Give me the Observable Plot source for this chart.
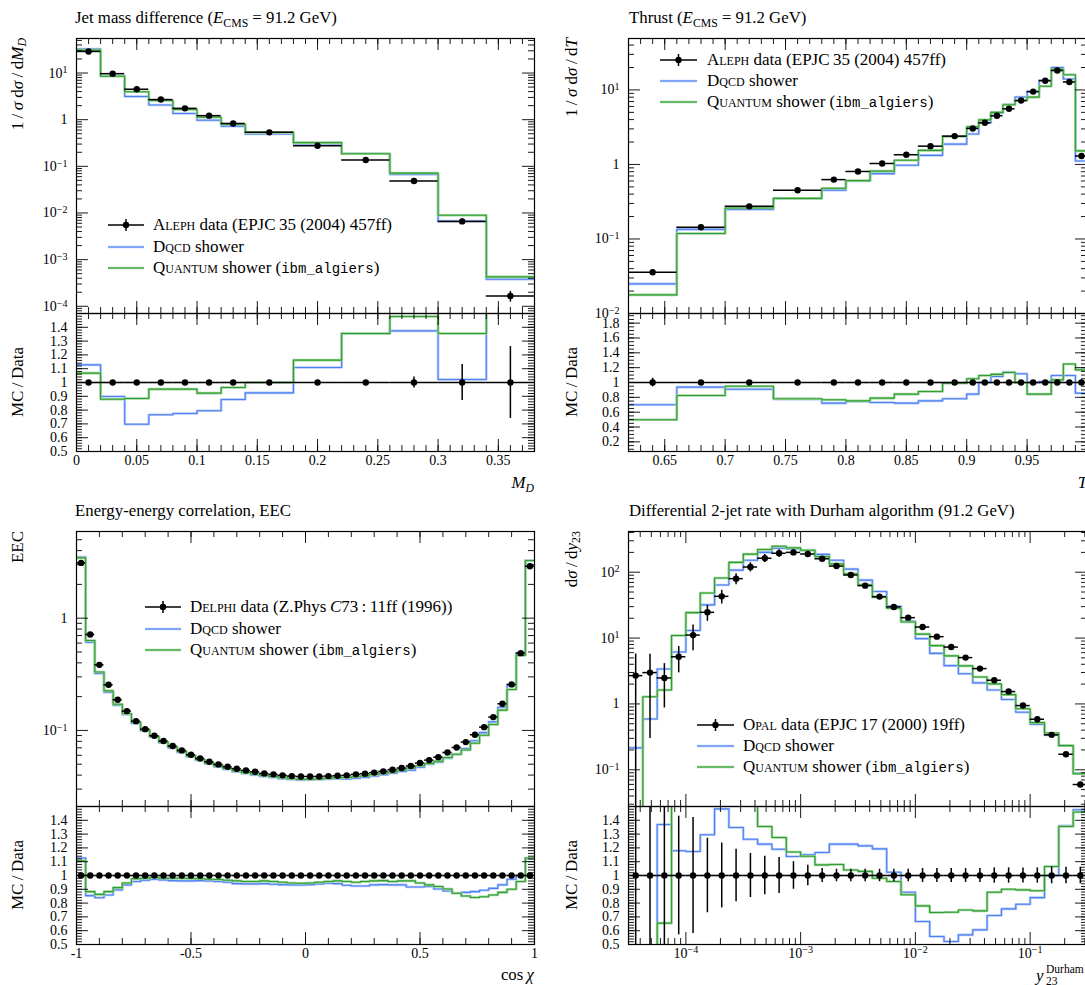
<!DOCTYPE html>
<html><head><meta charset="utf-8">
<script src="https://cdn.jsdelivr.net/npm/d3@7"></script>
<script src="https://cdn.jsdelivr.net/npm/@observablehq/plot@0.6"></script>
<style>
html,body{margin:0;padding:0;background:#fff;overflow:hidden;width:1085px;height:985px;}
#page{position:relative;width:1100px;height:985px;font-family:"Liberation Serif","DejaVu Serif",serif;color:#000;}
.t{position:absolute;white-space:nowrap;font-size:16.8px;line-height:20px;}
.yl{position:absolute;white-space:nowrap;font-size:17px;line-height:20px;width:20px;writing-mode:vertical-rl;transform:rotate(180deg);}
.sc{font-variant:small-caps;}
.tt{font-family:"Liberation Mono","DejaVu Sans Mono",monospace;font-size:14px;}
sub{font-size:0.7em;vertical-align:-0.3em;line-height:0;}
sup{font-size:0.7em;vertical-align:0.5em;line-height:0;}
.lg{position:absolute;white-space:nowrap;font-size:17px;height:20px;line-height:20px;}
.sm{position:absolute;white-space:nowrap;font-size:11.5px;line-height:14px;}
</style></head>
<body><div id="page"></div>
<script>
// ---------- Jet mass difference (ALEPH) ----------
const mdEdges = [0, 0.02, 0.04, 0.06, 0.08, 0.10, 0.12, 0.14, 0.18, 0.22, 0.26, 0.30, 0.34, 0.38];
const mdData = [29, 9.7, 4.5, 2.7, 1.75, 1.22, 0.83, 0.535, 0.277, 0.137, 0.0485, 0.0066, 1.66e-4];
const mdErr = [0.01, 0.01, 0.01, 0.01, 0.01, 0.01, 0.01, 0.01, 0.01, 0.015, 0.04, 0.13, 0.26];
const mdDqcdRatio = [1.128, 0.899, 0.698, 0.766, 0.775, 0.795, 0.877, 0.925, 1.109, 1.355, 1.374, 1.022, 2.29];
const mdQuantumRatio = [1.068, 0.879, 0.884, 0.952, 0.952, 0.923, 0.964, 1.0, 1.162, 1.355, 1.478, 1.355, 2.57];
const mdXTicks = [0, 0.05, 0.1, 0.15, 0.2, 0.25, 0.3, 0.35];
const mdXTickLabels = ["0", "0.05", "0.1", "0.15", "0.2", "0.25", "0.3", "0.35"];
const mdYTicks = [10, 1, 0.1, 0.01, 0.001, 0.0001];
const mdYTickLabels = ["10^1", "1", "10^-1", "10^-2", "10^-3", "10^-4"];

// ---------- Thrust (ALEPH) ----------
const thEdges = [0.62, 0.66, 0.70, 0.74, 0.78, 0.80, 0.82, 0.84, 0.86, 0.88, 0.90, 0.91, 0.92, 0.93, 0.94, 0.95, 0.96, 0.97, 0.98, 0.99, 1.0];
const thData = [0.0357, 0.1435, 0.274, 0.45, 0.626, 0.805, 1.03, 1.35, 1.76, 2.4, 3.04, 3.62, 4.5, 5.58, 7.2, 9.5, 13.3, 18.2, 12.8, 1.30];
const thErr = [0.058, 0.012, 0.01, 0.01, 0.01, 0.01, 0.01, 0.01, 0.01, 0.01, 0.01, 0.01, 0.01, 0.01, 0.01, 0.01, 0.01, 0.01, 0.01, 0.03];
const thDqcdRatio = [0.70, 0.937, 0.91, 0.776, 0.722, 0.744, 0.731, 0.722, 0.753, 0.78, 0.843, 1.0, 1.08, 1.14, 1.117, 1.0, 1.013, 1.094, 1.094, 0.857];
const thQuantumRatio = [0.498, 0.825, 0.95, 0.78, 0.767, 0.753, 0.79, 0.843, 0.879, 0.99, 1.05, 1.094, 1.11, 1.135, 1.0, 0.843, 0.843, 1.036, 1.25, 1.17];
const thXTicks = [0.65, 0.7, 0.75, 0.8, 0.85, 0.9, 0.95];
const thXTickLabels = ["0.65", "0.7", "0.75", "0.8", "0.85", "0.9", "0.95"];
const thYTicks = [10, 1, 0.1, 0.01];
const thYTickLabels = ["10^1", "1", "10^-1", "10^-2"];
const thRatioTicks = [0.2, 0.4, 0.6, 0.8, 1, 1.2, 1.4, 1.6, 1.8];
const thRatioTickLabels = ["0.2", "0.4", "0.6", "0.8", "1", "1.2", "1.4", "1.6", "1.8"];

// ---------- Energy-energy correlation (DELPHI) ----------
const eecEdges = [-1, -0.96, -0.92, -0.88, -0.84, -0.8, -0.76, -0.72, -0.68, -0.64, -0.6, -0.56, -0.52, -0.48, -0.44, -0.4, -0.36, -0.32, -0.28, -0.24, -0.2, -0.16, -0.12, -0.08, -0.04, 0, 0.04, 0.08, 0.12, 0.16, 0.2, 0.24, 0.28, 0.32, 0.36, 0.4, 0.44, 0.48, 0.52, 0.56, 0.6, 0.64, 0.68, 0.72, 0.76, 0.8, 0.84, 0.88, 0.92, 0.96, 1];
const eecData = [3.11, 0.716, 0.384, 0.255, 0.1875, 0.1486, 0.121, 0.1027, 0.0897, 0.0804, 0.0726, 0.0664, 0.0607, 0.0563, 0.0526, 0.0498, 0.0474, 0.0456, 0.044, 0.0428, 0.0414, 0.0406, 0.0398, 0.0392, 0.0389, 0.0389, 0.0389, 0.0392, 0.0395, 0.0398, 0.0406, 0.0412, 0.0421, 0.0432, 0.0447, 0.0462, 0.0482, 0.0512, 0.0544, 0.0578, 0.0636, 0.0705, 0.0787, 0.0915, 0.107, 0.1315, 0.1726, 0.257, 0.488, 2.9];
const eecDqcdRatio = [1.127, 0.854, 0.839, 0.859, 0.895, 0.932, 0.956, 0.966, 0.973, 0.968, 0.963, 0.961, 0.961, 0.963, 0.961, 0.956, 0.951, 0.941, 0.939, 0.939, 0.941, 0.937, 0.934, 0.932, 0.932, 0.934, 0.939, 0.944, 0.941, 0.929, 0.924, 0.924, 0.932, 0.934, 0.932, 0.932, 0.917, 0.917, 0.92, 0.902, 0.888, 0.873, 0.878, 0.883, 0.893, 0.907, 0.932, 0.973, 1.0, 1.122];
const eecQuantumRatio = [1.107, 0.883, 0.863, 0.883, 0.912, 0.946, 0.976, 0.98, 0.985, 0.98, 0.98, 0.98, 0.978, 0.976, 0.973, 0.971, 0.966, 0.961, 0.956, 0.956, 0.961, 0.956, 0.951, 0.946, 0.944, 0.946, 0.951, 0.956, 0.961, 0.956, 0.951, 0.956, 0.961, 0.963, 0.956, 0.961, 0.961, 0.946, 0.932, 0.92, 0.902, 0.871, 0.851, 0.841, 0.846, 0.859, 0.878, 0.9, 0.956, 1.127];
const eecXTicks = [-1, -0.5, 0, 0.5, 1];
const eecXTickLabels = ["-1", "-0.5", "0", "0.5", "1"];
const eecYTicks = [1, 0.1];
const eecYTickLabels = ["1", "10^-1"];

// ---------- Differential 2-jet rate, Durham (OPAL) ----------
const y23Edges = [3.162e-5, 4.217e-5, 5.623e-5, 7.499e-5, 1e-4, 1.334e-4, 1.778e-4, 2.371e-4, 3.162e-4, 4.217e-4, 5.623e-4, 7.499e-4, 1e-3, 1.334e-3, 1.778e-3, 2.371e-3, 3.162e-3, 4.217e-3, 5.623e-3, 7.499e-3, 1e-2, 1.334e-2, 1.778e-2, 2.371e-2, 3.162e-2, 4.217e-2, 5.623e-2, 7.499e-2, 0.1, 0.1334, 0.1778, 0.2371, 0.3162];
const y23Data = [2.69, 2.99, 2.48, 5.2, 11.1, 24.6, 43, 79.8, 120, 163, 194, 200, 189, 160, 124, 90.7, 62.5, 42.6, 29.7, 20.4, 14.7, 10.5, 7.3, 5.05, 3.44, 2.29, 1.54, 0.944, 0.585, 0.339, 0.172, 0.0597];
const y23Err = [1.13, 0.9, 0.65, 0.43, 0.42, 0.27, 0.235, 0.19, 0.16, 0.14, 0.13, 0.1, 0.074, 0.05, 0.045, 0.045, 0.045, 0.045, 0.045, 0.045, 0.05, 0.05, 0.05, 0.05, 0.05, 0.055, 0.055, 0.055, 0.055, 0.06, 0.06, 0.06];
const y23DqcdRatio = [0.08, 0.197, 1.37, 1.179, 1.174, 1.295, 1.483, 1.348, 1.263, 1.227, 1.19, 1.138, 1.15, 1.167, 1.227, 1.227, 1.215, 1.193, 1.024, 0.879, 0.667, 0.558, 0.522, 0.57, 0.606, 0.71, 0.758, 0.792, 0.84, 1.0, 1.36, 1.476];
const y23QuantumRatio = [0.004, 0.43, 0.655, 2.1, 2.19, 1.96, 1.9, 1.77, 1.57, 1.355, 1.275, 1.17, 1.14, 1.077, 1.08, 1.04, 1.03, 0.98, 0.957, 0.86, 0.78, 0.732, 0.734, 0.75, 0.744, 0.879, 0.9, 0.896, 0.889, 1.065, 1.355, 1.46];
const y23XTicks = [1e-4, 1e-3, 1e-2, 1e-1];
const y23XTickLabels = ["10^-4", "10^-3", "10^-2", "10^-1"];
const y23YTicks = [100, 10, 1, 0.1];
const y23YTickLabels = ["10^2", "10^1", "1", "10^-1"];

// shared ratio axis labels
const ratioTicks = [0.5, 0.6, 0.7, 0.8, 0.9, 1, 1.1, 1.2, 1.3, 1.4];
const ratioTickLabels = ["0.5", "0.6", "0.7", "0.8", "0.9", "1", "1.1", "1.2", "1.3", "1.4"];

// ---------- drawing ----------
const BLUE = "#4f80f2", BLUE_H = "#b2c9fa", GREEN = "#2f9e2f", GREEN_H = "#9ed49e";
const ML = 76, MR = 11, H_MAIN = 313, MT_MAIN = 38, H_RATIO = 182, MB_RATIO = 44;
const MAJ = 12, MIN = 6, FS = 14;
const STYLE = {background: "transparent", overflow: "visible", fontFamily: "Liberation Serif, DejaVu Serif, serif", fontSize: "14px", color: "black", maxWidth: "none", position: "absolute"};
const page = document.getElementById("page");
const rnd = v => Math.round(v * 1e6) / 1e6;

function steps(edges, vals) {
  const pts = [];
  vals.forEach((v, i) => { pts.push({x: edges[i], y: v}); pts.push({x: edges[i + 1], y: v}); });
  return pts;
}
function inDom(vals, dom) {
  const lo = Math.min(...dom), hi = Math.max(...dom), e = (hi - lo) * 1e-9;
  return vals.filter(d => d >= lo - e && d <= hi + e);
}
function ticksX(vals, len, H, dom) {
  const v = inDom(vals, dom);
  return [Plot.tickX(v, {x: d => d, insetTop: H - len, stroke: "black", strokeWidth: 0.9}),
          Plot.tickX(v, {x: d => d, insetBottom: H - len, stroke: "black", strokeWidth: 0.9})];
}
function ticksY(vals, len, W, dom) {
  const v = inDom(vals, dom);
  return [Plot.tickY(v, {y: d => d, insetRight: W - len, stroke: "black", strokeWidth: 0.9}),
          Plot.tickY(v, {y: d => d, insetLeft: W - len, stroke: "black", strokeWidth: 0.9})];
}
function logMajor(dom) {
  const out = [];
  for (let e = Math.floor(Math.log10(dom[0])); e <= Math.ceil(Math.log10(dom[1])); e++) out.push(10 ** e);
  return inDom(out, dom);
}
function logMinor(dom) {
  const out = [];
  for (let e = Math.floor(Math.log10(dom[0])); e <= Math.ceil(Math.log10(dom[1])); e++)
    for (let k = 2; k <= 9; k++) out.push(k * 10 ** e);
  return inDom(out, dom);
}
function linMinor(dom, step) {
  const n = Math.round((dom[1] - dom[0]) / step);
  const start = Math.ceil(dom[0] / step - 1e-9) * step;
  return d3.range(0, n + 2).map(k => rnd(start + k * step));
}
function supify(svg) {
  svg.querySelectorAll("text").forEach(t => {
    const m = /^10\^(.+)$/.exec(t.textContent);
    if (m) {
      t.textContent = "10";
      const ts = document.createElementNS("http://www.w3.org/2000/svg", "tspan");
      ts.setAttribute("dy", "-0.42em");
      ts.setAttribute("font-size", "0.72em");
      ts.textContent = m[1].replace("-", "\u2212");
      t.appendChild(ts);
    }
  });
}
function place(el, left, top) {
  el.style.position = "absolute"; el.style.left = left + "px"; el.style.top = top + "px";
  page.appendChild(el);
}

function panel(p) {
  const W = p.width, fw = W - ML - MR;
  const Hm = H_MAIN - MT_MAIN, Hr = H_RATIO - MB_RATIO;
  const center = i => p.xType === "log" ? Math.sqrt(p.edges[i] * p.edges[i + 1]) : (p.edges[i] + p.edges[i + 1]) / 2;
  const rows = p.data.map((v, i) => ({lo: p.edges[i], hi: p.edges[i + 1], c: center(i), v, e: p.err ? p.err[i] : 0}));
  const series = [{r: p.dqcd, color: BLUE, halo: BLUE_H}, {r: p.quantum, color: GREEN, halo: GREEN_H}];
  const mcLines = valsOf => series.flatMap(s => {
    const pts = steps(p.edges, valsOf(s));
    return [Plot.line(pts, {x: "x", y: "y", stroke: s.halo, strokeWidth: 2.6, clip: true}),
            Plot.line(pts, {x: "x", y: "y", stroke: s.color, strokeWidth: 1.1, clip: true})];
  });
  const xs = {type: p.xType, domain: p.xDomain, axis: null};
  const xMinor = p.xType === "log" ? logMinor(p.xDomain) : linMinor(p.xDomain, p.xMinorStep);
  const xMajor = p.xType === "log" ? logMajor(p.xDomain) : p.xTicks;
  const yMin = p.yDomain[0];
  const errRows = rows.filter(d => d.e > 0);

  const main = Plot.plot({
    width: W, height: H_MAIN, marginLeft: ML, marginRight: MR, marginTop: MT_MAIN, marginBottom: 0,
    style: STYLE, x: xs, y: {type: "log", domain: p.yDomain, axis: null},
    marks: [
      ...mcLines(s => p.data.map((v, i) => v * s.r[i])),
      Plot.ruleX(errRows, {x: "c", y1: d => Math.max(d.v * (1 - d.e), yMin / 3), y2: d => d.v * (1 + d.e), stroke: "black", strokeWidth: 1.5, clip: true}),
      Plot.ruleY(rows, {y: "v", x1: "lo", x2: "hi", stroke: "black", strokeWidth: 1.5, clip: true}),
      Plot.dot(rows, {x: "c", y: "v", r: 3.2, fill: "black", stroke: null, clip: true}),
      ...ticksX(xMajor, MAJ, Hm, p.xDomain), ...ticksX(xMinor, MIN, Hm, p.xDomain),
      ...ticksY(logMajor(p.yDomain), MAJ, fw, p.yDomain), ...ticksY(logMinor(p.yDomain), MIN, fw, p.yDomain),
      Plot.text(p.yTicks, {y: d => d, text: (d, i) => p.yTickLabels[i], frameAnchor: "left", textAnchor: "end", dx: -9, fill: "black", fontSize: FS}),
      Plot.frame({stroke: "black", strokeWidth: 1.2})
    ]
  });
  supify(main); place(main, p.left, p.top);

  const ratio = Plot.plot({
    width: W, height: H_RATIO, marginLeft: ML, marginRight: MR, marginTop: 0, marginBottom: MB_RATIO,
    style: STYLE, x: xs, y: {type: "linear", domain: p.rDomain, axis: null},
    marks: [
      ...mcLines(s => s.r),
      Plot.ruleX(errRows, {x: "c", y1: d => 1 - d.e, y2: d => 1 + d.e, stroke: "black", strokeWidth: 1.5, clip: true}),
      Plot.ruleY(rows, {y: () => 1, x1: "lo", x2: "hi", stroke: "black", strokeWidth: 1.6, clip: true}),
      Plot.dot(rows, {x: "c", y: () => 1, r: 3.2, fill: "black", stroke: null, clip: true}),
      ...ticksX(xMajor, MAJ, Hr, p.xDomain), ...ticksX(xMinor, MIN, Hr, p.xDomain),
      ...ticksY(p.rTicks, MAJ, fw, p.rDomain), ...ticksY(linMinor(p.rDomain, p.rMinorStep), MIN, fw, p.rDomain),
      Plot.text(p.rTicks, {y: d => d, text: (d, i) => p.rTickLabels[i], frameAnchor: "left", textAnchor: "end", dx: -9, fill: "black", fontSize: FS}),
      Plot.text(p.xTicks, {x: d => d, text: (d, i) => p.xTickLabels[i], frameAnchor: "bottom", dy: 13, fill: "black", fontSize: FS}),
      Plot.frame({stroke: "black", strokeWidth: 1.2})
    ]
  });
  supify(ratio); place(ratio, p.left, p.top + H_MAIN);
}

panel({left: 0, top: 0, width: 545, xType: "linear", xDomain: [0, 0.38], xTicks: mdXTicks, xTickLabels: mdXTickLabels, xMinorStep: 0.01,
  yDomain: [7e-5, 55], yTicks: mdYTicks, yTickLabels: mdYTickLabels,
  rDomain: [0.5, 1.5], rTicks: ratioTicks, rTickLabels: ratioTickLabels, rMinorStep: 0.02,
  edges: mdEdges, data: mdData, err: mdErr, dqcd: mdDqcdRatio, quantum: mdQuantumRatio});
panel({left: 552, top: 0, width: 546, xType: "linear", xDomain: [0.62, 1.0], xTicks: thXTicks, xTickLabels: thXTickLabels, xMinorStep: 0.01,
  yDomain: [0.01, 49], yTicks: thYTicks, yTickLabels: thYTickLabels,
  rDomain: [0.07, 1.93], rTicks: thRatioTicks, rTickLabels: thRatioTickLabels, rMinorStep: 0.05,
  edges: thEdges, data: thData, err: thErr, dqcd: thDqcdRatio, quantum: thQuantumRatio});
panel({left: 0, top: 493, width: 545, xType: "linear", xDomain: [-1, 1], xTicks: eecXTicks, xTickLabels: eecXTickLabels, xMinorStep: 0.1,
  yDomain: [0.021, 5.92], yTicks: eecYTicks, yTickLabels: eecYTickLabels,
  rDomain: [0.5, 1.5], rTicks: ratioTicks, rTickLabels: ratioTickLabels, rMinorStep: 0.02,
  edges: eecEdges, data: eecData, err: null, dqcd: eecDqcdRatio, quantum: eecQuantumRatio});
panel({left: 552, top: 493, width: 546, xType: "log", xDomain: [3.162e-5, 0.3162], xTicks: y23XTicks, xTickLabels: y23XTickLabels,
  yDomain: [0.0277, 415], yTicks: y23YTicks, yTickLabels: y23YTickLabels,
  rDomain: [0.5, 1.5], rTicks: ratioTicks, rTickLabels: ratioTickLabels, rMinorStep: 0.02,
  edges: y23Edges, data: y23Data, err: y23Err, dqcd: y23DqcdRatio, quantum: y23QuantumRatio});

// ---------- text: titles, axis labels, legends ----------
function html(cls, left, top, content, extra) {
  const d = document.createElement("div");
  d.className = cls; d.style.left = left + "px"; d.style.top = top + "px";
  if (extra) Object.assign(d.style, extra);
  d.innerHTML = content; page.appendChild(d); return d;
}
const E = '<i>E</i><sub>CMS</sub>';
html("t", 75, 8, `Jet mass difference (${E} = 91.2 GeV)`);
html("t", 629, 8, `Thrust (${E} = 91.2 GeV)`);
html("t", 75, 501, "Energy-energy correlation, EEC");
html("t", 629, 501, "Differential 2-jet rate with Durham algorithm (91.2 GeV)");

html("yl", 8, 38, "1\u2009/\u2009<i>σ</i> d<i>σ</i>\u2009/\u2009d<i>M</i><sub><i>D</i></sub>");
html("yl", 562, 38, "1\u2009/\u2009<i>σ</i> d<i>σ</i>\u2009/\u2009d<i>T</i>");
html("yl", 8, 531, "EEC");
html("yl", 562, 531, "d<i>σ</i>\u2009/\u2009d<i>y</i><sub>23</sub>");
[[8, 313], [562, 313], [8, 806], [562, 806]].forEach(([x, y]) =>
  html("yl", x, y, "MC\u2009/\u2009Data", {height: "138px", textAlign: "center"}));

html("t", 434, 473, "<i>M</i><sub><i>D</i></sub>", {width: "100px", textAlign: "right"});
html("t", 987, 473, "<i>T</i>", {width: "100px", textAlign: "right"});
html("t", 434, 965, "cos\u2009<i>χ</i>", {width: "100px", textAlign: "right"});
html("t", 1036, 966, "<i>y</i>");
html("sm", 1046, 962, "Durham");
html("sm", 1046, 974, "23");

function legend(sx, sw, tx, ys, dataLabel) {
  const labels = [dataLabel, '<span class="sc">Dqcd</span> shower',
    '<span class="sc">Quantum</span> shower (<span class="tt">ibm_algiers</span>)'];
  const samples = [
    `<line x1="0" x2="${sw}" y1="10" y2="10" stroke="black" stroke-width="1.5"/><line x1="${sw/2}" x2="${sw/2}" y1="4" y2="16" stroke="black" stroke-width="1.5"/><circle cx="${sw/2}" cy="10" r="3.2" fill="black"/>`,
    `<line x1="0" x2="${sw}" y1="10" y2="10" stroke="${BLUE_H}" stroke-width="2.6"/><line x1="0" x2="${sw}" y1="10" y2="10" stroke="${BLUE}" stroke-width="1.1"/>`,
    `<line x1="0" x2="${sw}" y1="10" y2="10" stroke="${GREEN_H}" stroke-width="2.6"/><line x1="0" x2="${sw}" y1="10" y2="10" stroke="${GREEN}" stroke-width="1.1"/>`
  ];
  ys.forEach((y, i) => {
    html("lg", sx, y - 10, `<svg width="${sw}" height="20" style="position:absolute;left:0;top:0">${samples[i]}</svg>`, {width: sw + "px"});
    html("lg", tx, y - 10, labels[i]);
  });
}
legend(108, 36, 153, [225, 247, 268], '<span class="sc">Aleph</span> data (EPJC\u200935 (2004) 457ff)');
legend(660, 37, 707, [60, 81, 102], '<span class="sc">Aleph</span> data (EPJC\u200935 (2004) 457ff)');
legend(145, 36, 190, [607, 629, 650], '<span class="sc">Delphi</span> data (Z.Phys\u2009<i>C</i>73\u2009:\u200911ff (1996))');
legend(697, 37, 743, [725, 746, 767], '<span class="sc">Opal</span> data (EPJC\u200917 (2000) 19ff)');
</script>
</body></html>
